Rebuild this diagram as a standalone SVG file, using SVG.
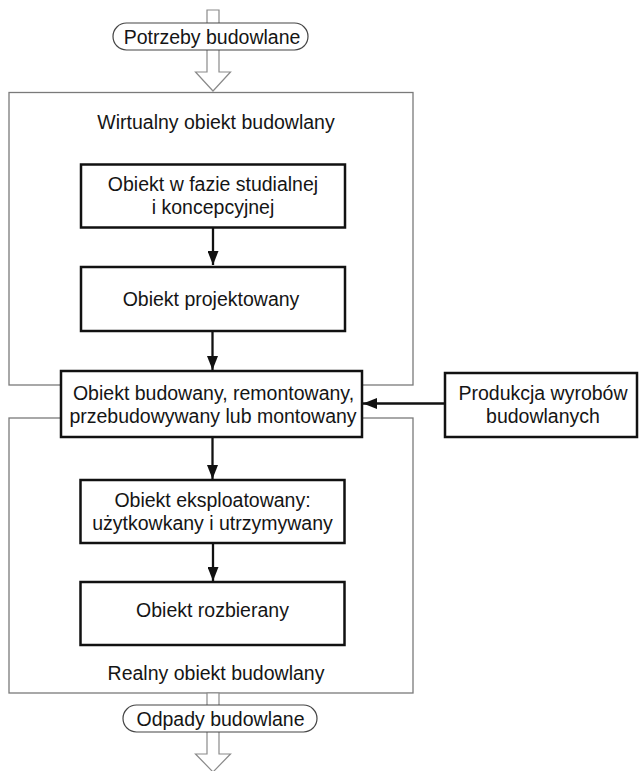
<svg xmlns="http://www.w3.org/2000/svg" width="639" height="771" viewBox="0 0 639 771">
  <style>
    .frame { fill: none; stroke: #7a7a7a; stroke-width: 1.3; }
    .box { fill: #ffffff; stroke: #111111; stroke-width: 2.5; }
    .pill { fill: #ffffff; stroke: #444444; stroke-width: 1.2; }
    .hollow { fill: #ffffff; stroke: #8a8a8a; stroke-width: 1.2; stroke-linejoin: miter; }
    .conn { fill: none; stroke: #111111; stroke-width: 2.3; }
    text { font-family: "Liberation Sans", Arial, sans-serif; font-size: 19.5px; fill: #151515; text-anchor: middle; }
  </style>
  <defs>
    <marker id="ah" markerUnits="userSpaceOnUse" markerWidth="15" markerHeight="11" refX="14" refY="5.5" orient="auto">
      <path d="M0,0 L14,5.5 L0,11 Z" fill="#111111"/>
    </marker>
  </defs>

  <!-- Frames -->
  <g id="frame-virtual">
    <rect class="frame" x="9" y="92.5" width="404" height="292.5"/>
    <text x="216" y="128.5">Wirtualny obiekt budowlany</text>
  </g>
  <g id="frame-real">
    <rect class="frame" x="9" y="418" width="404" height="275"/>
    <text x="216" y="680">Realny obiekt budowlany</text>
  </g>

  <!-- Hollow input/output arrows -->
  <g id="arrow-in">
    <path class="hollow" d="M207,10 L219,10 L219,72 L230.5,72 L213,91 L195.5,72 L207,72 Z"/>
  </g>
  <g id="arrow-out">
    <path class="hollow" d="M207,693 L219,693 L219,754 L230.5,754 L213,772 L195.5,754 L207,754 Z"/>
  </g>

  <!-- Pills -->
  <g id="node-potrzeby">
    <rect class="pill" x="113" y="23" width="195" height="27" rx="13.5" ry="13.5"/>
    <text x="212" y="43.5">Potrzeby budowlane</text>
  </g>
  <g id="node-odpady">
    <rect class="pill" x="123" y="705" width="194" height="27" rx="13.5" ry="13.5"/>
    <text x="220.5" y="725.5">Odpady budowlane</text>
  </g>

  <!-- Connectors -->
  <g id="connectors">
    <line class="conn" x1="213" y1="228" x2="213" y2="265" marker-end="url(#ah)"/>
    <line class="conn" x1="212.5" y1="331" x2="212.5" y2="370" marker-end="url(#ah)"/>
    <line class="conn" x1="212.5" y1="437" x2="212.5" y2="479" marker-end="url(#ah)"/>
    <line class="conn" x1="213" y1="543" x2="213" y2="581" marker-end="url(#ah)"/>
    <line class="conn" x1="445" y1="403.5" x2="363" y2="403.5" marker-end="url(#ah)"/>
  </g>

  <!-- Boxes -->
  <g id="node-studialny">
    <rect class="box" x="81" y="164.5" width="264" height="63"/>
    <text x="213" y="190.5">Obiekt w fazie studialnej</text>
    <text x="213" y="213.5">i koncepcyjnej</text>
  </g>
  <g id="node-projektowany">
    <rect class="box" x="81" y="267" width="264" height="64"/>
    <text x="211" y="306">Obiekt projektowany</text>
  </g>
  <g id="node-budowany">
    <rect class="box" x="61" y="371" width="301" height="66"/>
    <text x="213.5" y="399.5">Obiekt budowany, remontowany,</text>
    <text x="213" y="422.5">przebudowywany lub montowany</text>
  </g>
  <g id="node-produkcja">
    <rect class="box" x="445" y="373" width="192" height="64"/>
    <text x="543" y="400">Produkcja wyrobów</text>
    <text x="543" y="423">budowlanych</text>
  </g>
  <g id="node-eksploatowany">
    <rect class="box" x="80.5" y="480" width="264" height="63"/>
    <text x="212.5" y="506.5">Obiekt eksploatowany:</text>
    <text x="212.5" y="529.5">użytkowkany i utrzymywany</text>
  </g>
  <g id="node-rozbierany">
    <rect class="box" x="80.5" y="582" width="264" height="63"/>
    <text x="212.5" y="617">Obiekt rozbierany</text>
  </g>
</svg>
